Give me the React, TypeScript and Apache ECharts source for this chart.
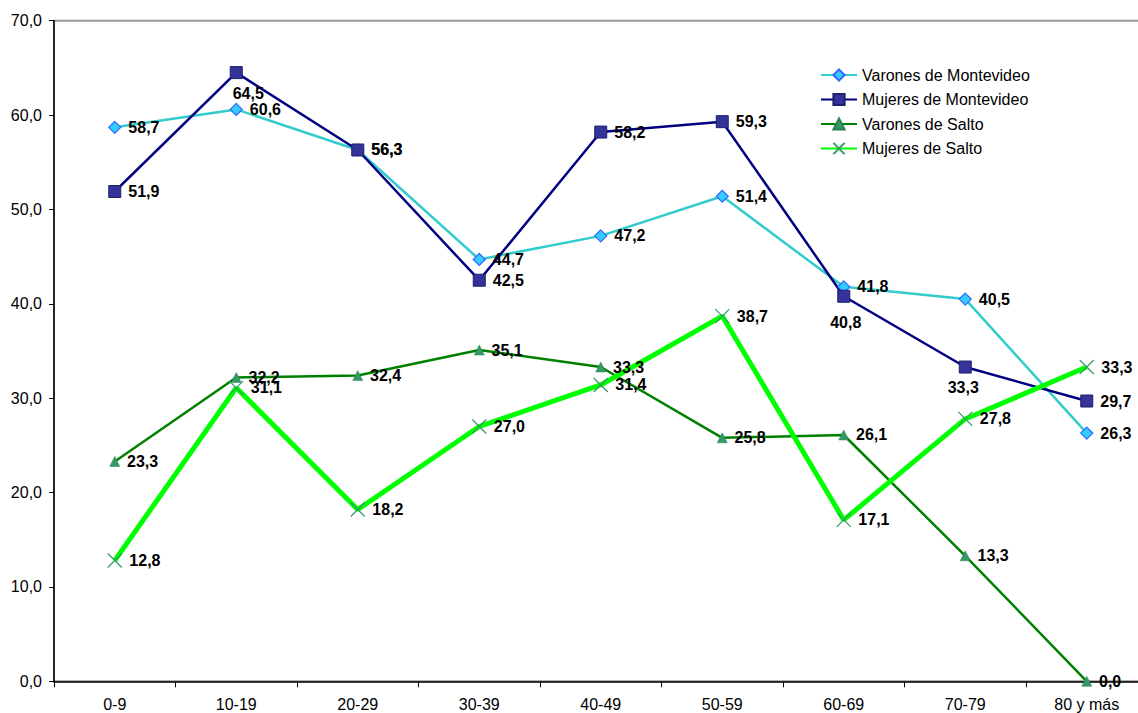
import React, { useEffect, useRef } from "react";
import * as echarts from "echarts";

const categories = ["0-9", "10-19", "20-29", "30-39", "40-49", "50-59", "60-69", "70-79", "80 y más"];
const varonesMontevideo = [58.7, 60.6, 56.3, 44.7, 47.2, 51.4, 41.8, 40.5, 26.3];
const mujeresMontevideo = [51.9, 64.5, 56.3, 42.5, 58.2, 59.3, 40.8, 33.3, 29.7];
const varonesSalto = [23.3, 32.2, 32.4, 35.1, 33.3, 25.8, 26.1, 13.3, 0.0];
const mujeresSalto = [12.8, 31.1, 18.2, 27.0, 31.4, 38.7, 17.1, 27.8, 33.3];
const seriesNames = ["Varones de Montevideo", "Mujeres de Montevideo", "Varones de Salto", "Mujeres de Salto"];

// label placement overrides (style only): index -> offset, label below the point
const mujeresMvdBelow: Record<number, [number, number]> = { 1: [12, 0], 6: [2, 6], 7: [-2, 0] };

const fmt = (v: number) => v.toFixed(1).replace(".", ",");
const FONT = "'Liberation Sans', Arial, Helvetica, sans-serif";

export default function App() {
  const ref = useRef<HTMLDivElement>(null);
  useEffect(() => {
    if (!ref.current) return;
    const chart = echarts.init(ref.current, undefined, { renderer: "svg" });
    const baseLabel = {
      show: true,
      position: "right" as const,
      distance: 7,
      fontSize: 16,
      fontWeight: "bold" as const,
      color: "#000",
      fontFamily: FONT,
      formatter: (p: any) => fmt(Number(p.value)),
    };
    const mujMvdData = mujeresMontevideo.map((v, i) =>
      mujeresMvdBelow[i]
        ? { value: v, label: { position: "bottom", distance: 6, offset: mujeresMvdBelow[i] } }
        : v
    );
    chart.setOption({
      animation: false,
      textStyle: { fontFamily: FONT },
      grid: {
        left: 54,
        top: 20.7,
        width: 1093.5,
        height: 660.6,
        show: true,
        borderColor: "#999",
        borderWidth: 2,
        backgroundColor: "transparent",
      },
      legend: {
        orient: "vertical",
        left: 815,
        top: 62,
        itemWidth: 36,
        itemHeight: 14,
        itemGap: 8.5,
        textStyle: { fontSize: 16, color: "#000", fontFamily: FONT },
        data: seriesNames,
      },
      xAxis: {
        type: "category",
        data: categories,
        boundaryGap: true,
        axisLine: { show: true, lineStyle: { color: "#000", width: 1.5 } },
        axisTick: { show: true, length: 6, lineStyle: { color: "#000", width: 1 } },
        axisLabel: { fontSize: 16, color: "#000", margin: 15, fontFamily: FONT },
        splitLine: { show: false },
      },
      yAxis: {
        type: "value",
        min: 0,
        max: 70,
        interval: 10,
        axisLine: { show: true, lineStyle: { color: "#000", width: 1.5 } },
        axisTick: { show: true, length: 5, lineStyle: { color: "#000", width: 1 } },
        axisLabel: { fontSize: 16, color: "#000", margin: 12, fontFamily: FONT, formatter: (v: number) => fmt(v) },
        splitLine: { show: false },
      },
      series: [
        {
          name: seriesNames[0],
          type: "line",
          data: varonesMontevideo,
          symbol: "diamond",
          symbolSize: 12,
          lineStyle: { color: "#33CCCC", width: 2.5 },
          itemStyle: { color: "#33CCFF", borderColor: "#3366FF", borderWidth: 1.2 },
          label: baseLabel,
        },
        {
          name: seriesNames[1],
          type: "line",
          data: mujMvdData,
          symbol: "rect",
          symbolSize: 12,
          lineStyle: { color: "#000080", width: 2.5 },
          itemStyle: { color: "#333399", borderColor: "#1F1F6B", borderWidth: 1 },
          label: baseLabel,
        },
        {
          name: seriesNames[2],
          type: "line",
          data: varonesSalto,
          symbol: "triangle",
          symbolSize: 10,
          lineStyle: { color: "#008000", width: 2.5 },
          itemStyle: { color: "#339966", borderColor: "#2E8050", borderWidth: 0.5 },
          label: baseLabel,
        },
        {
          name: seriesNames[3],
          type: "line",
          data: mujeresSalto,
          symbol: "path://M0 0L10 10M10 0L0 10",
          symbolSize: 14,
          lineStyle: { color: "#00FF00", width: 5 },
          itemStyle: { color: "#339966", borderColor: "#339966", borderWidth: 1.2 },
          label: baseLabel,
        },
      ],
    });
    return () => chart.dispose();
  }, []);
  return (
    <div
      style={{ position: "fixed", left: 0, top: 0, width: 1138, height: 713, overflow: "hidden", background: "#fff" }}
    >
      <div ref={ref} style={{ width: 1162, height: 713 }} />
    </div>
  );
}
